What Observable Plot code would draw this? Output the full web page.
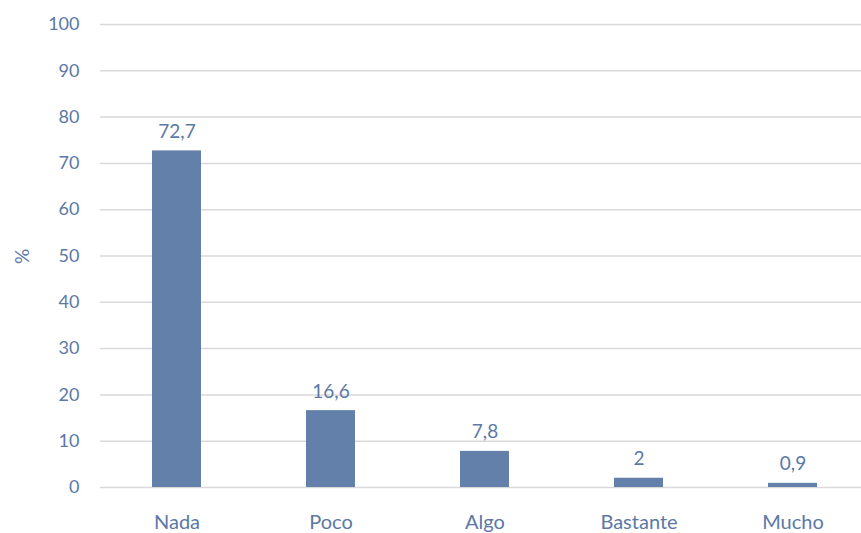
<!DOCTYPE html>
<html><head><meta charset="utf-8">
<script src="https://cdn.jsdelivr.net/npm/d3@7"></script>
<script src="https://cdn.jsdelivr.net/npm/@observablehq/plot@0.6"></script>
<style>html,body{margin:0;padding:0;background:#fff;overflow:hidden;width:861px;height:533px}#chart{width:861px;height:533px;overflow:hidden}</style>
</head><body><div id="chart"></div>
<script>
const categories = ["Nada", "Poco", "Algo", "Bastante", "Mucho"];
const values = [72.7, 16.6, 7.8, 2, 0.9];
const yTicks = [0, 10, 20, 30, 40, 50, 60, 70, 80, 90, 100];
const yLabel = "%";

const data = categories.map((c, i) => ({cat: c, v: values[i]}));
const fmt = v => String(v).replace(".", ",");
const color = "#6280aa";
const textColor = "#5b78a6";

const chart = Plot.plot({
  width: 861, height: 533,
  marginLeft: 100, marginRight: -9, marginTop: 24, marginBottom: 46,
  style: {fontFamily: "Lato, 'Open Sans', sans-serif", fontSize: "18px", color: textColor, background: "#fff", overflow: "hidden"},
  x: {domain: categories, paddingInner: 0.68, paddingOuter: 0.34, label: null},
  y: {domain: [0, 100], ticks: yTicks, label: null},
  marks: [
    Plot.gridY(yTicks, {stroke: "#d9d9d9", strokeOpacity: 1, strokeWidth: 1.5}),
    Plot.axisY(yTicks, {tickSize: 0, tickPadding: 21, label: null, fill: textColor, fontSize: 18}),
    Plot.axisX({tickSize: 0, tickPadding: 27, label: null, fill: textColor, fontSize: 20}),
    Plot.barY(data, {x: "cat", y: "v", fill: color}),
    Plot.text(data, {x: "cat", y: "v", text: d => fmt(d.v), dy: -19, fill: textColor, fontSize: 19}),
    Plot.text([yLabel], {text: d => d, frameAnchor: "left", dx: -78, dy: 8, rotate: -90, fill: textColor, fontSize: 19})
  ]
});
document.getElementById("chart").appendChild(chart);
</script></body></html>
